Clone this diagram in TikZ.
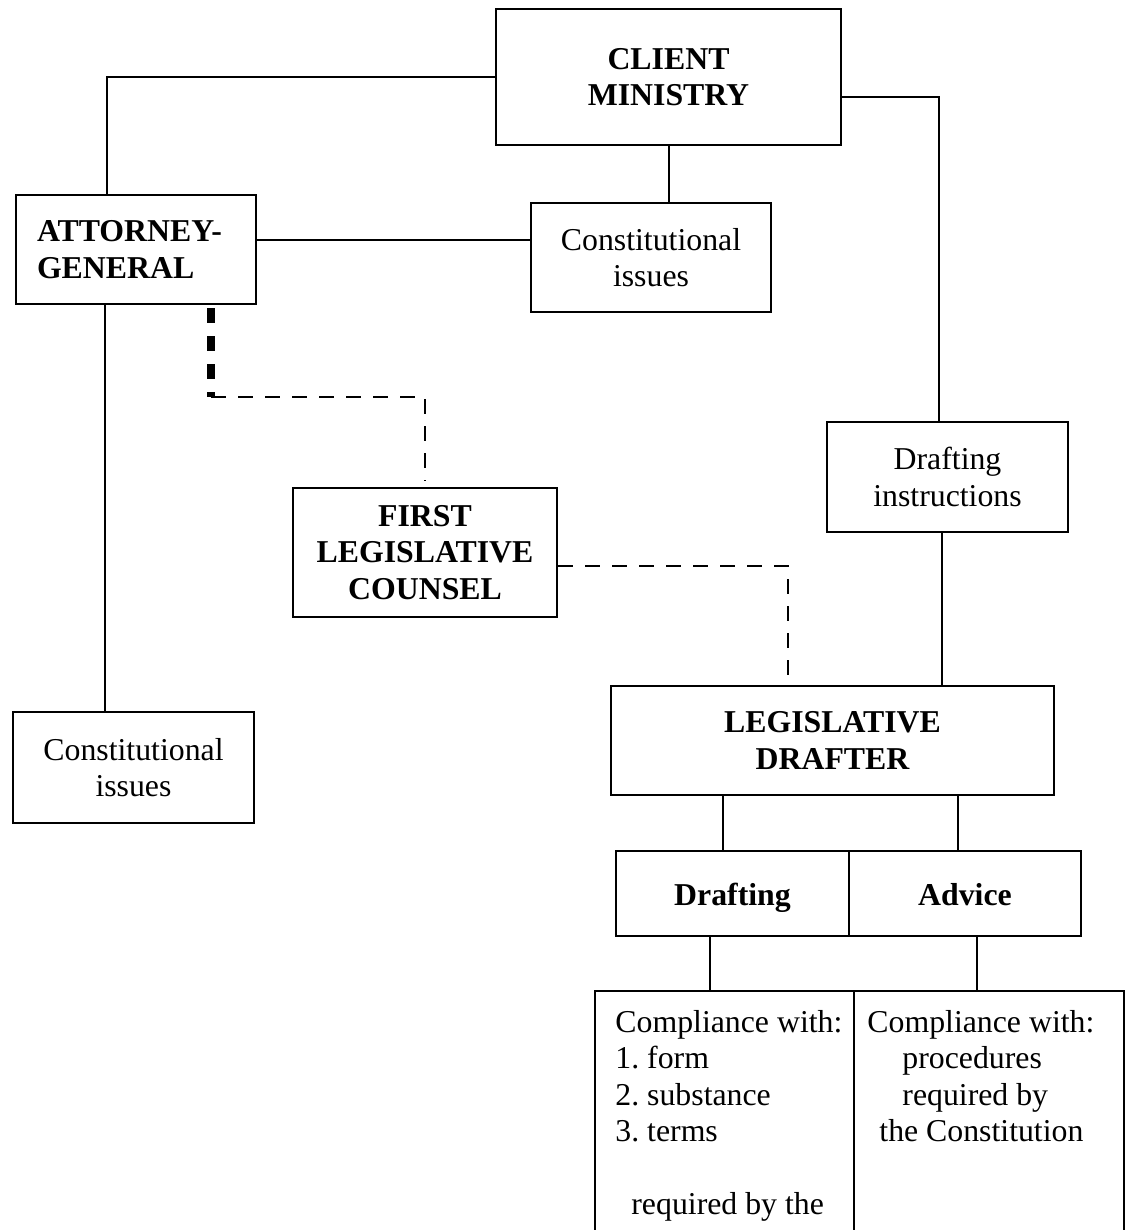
\documentclass[tikz,border=0pt]{standalone}
\usepackage{fontspec}
\setmainfont{Liberation Serif}
\frenchspacing

\begin{document}
\begin{tikzpicture}[x=0.5pt,y=-0.5pt,
        chartbox/.style={draw,line width=1pt,inner sep=0pt,align=center,
            font=\fontsize{15.9pt}{18.25pt}\selectfont},
        boldbox/.style={chartbox,font=\fontsize{15.9pt}{18.25pt}\selectfont\bfseries},
        celltext/.style={inner sep=0pt,align=left,anchor=north west,
            font=\fontsize{15.9pt}{18.25pt}\selectfont},
        link/.style={line width=1pt},
        dashlink/.style={line width=1pt,dash pattern=on 7.5pt off 6pt},
        heavydash/.style={line width=4pt,dash pattern=on 7.5pt off 6.5pt}]
        \useasboundingbox (0,0) rectangle (1128,1230);
        \clip (0,0) rectangle (1128,1230);
        \node[boldbox,minimum width=172.5pt,minimum height=68pt] (client) at (668.5,77) {CLIENT\\MINISTRY};
        \node[boldbox,align=left,text width=99pt,minimum width=120pt,minimum height=54.5pt] (ag) at (136,249.5) {ATTORNEY-\\GENERAL};
        \node[chartbox,minimum width=120pt,minimum height=54.5pt] (upcon) at (651,257.5) {Constitutional\\issues};
        \node[chartbox,minimum width=120.5pt,minimum height=55.5pt] (lowcon) at (133.5,767.5) {Constitutional\\issues};
        \node[boldbox,minimum width=132pt,minimum height=64.5pt] (flc) at (425,552.5) {FIRST\\LEGISLATIVE\\COUNSEL};
        \node[chartbox,minimum width=120.5pt,minimum height=55pt] (drafti) at (947.5,477) {Drafting\\instructions};
        \node[boldbox,minimum width=221.5pt,minimum height=54.5pt] (drafter) at (832.5,740.5) {LEGISLATIVE\\DRAFTER};
        \node[boldbox,text height=13pt,text depth=1.5pt,minimum width=116.5pt,minimum height=42.5pt] (draft) at (732.5,893.5) {Drafting};
        \node[boldbox,text height=13pt,text depth=1.5pt,minimum width=116pt,minimum height=42.5pt] (advice) at (965,893.5) {Advice};
        \node[chartbox,minimum width=129.5pt,minimum height=150pt] (compform) at (724.5,1141) {};
        \node[chartbox,minimum width=135pt,minimum height=150pt] (compproc) at (989,1141) {};
        \node[celltext] (formtext) at (615,1010) {Compliance with:\\1. form\\2. substance\\3. terms\\[18.25pt]\hspace*{8pt}required by the};
        \node[celltext] (proctext) at (867,1010) {Compliance with:\\\hspace*{17.5pt}procedures\\\hspace*{17.5pt}required by\\\hspace*{6pt}the Constitution};
        \coordinate (agbend) at (211,397);
        \draw[link] (client.west) -| ([xshift=-14.5pt]ag.north);
        \draw[link] ([yshift=4.75pt]ag.east) -- ([yshift=4.75pt]ag.east -| upcon.west);
        \draw[link] (client.south) -- (client.south |- upcon.north);
        \draw[link] ([yshift=-10pt]client.east) -| ([xshift=-4.25pt]drafti.north);
        \draw[link] ([xshift=-2.75pt]drafti.south) -- ([xshift=-2.75pt]drafti.south |- drafter.north);
        \draw[link] ([xshift=-15.5pt]ag.south) -- ([xshift=-15.5pt]ag.south |- lowcon.north);
        \draw[heavydash,shorten <=1.5pt] ([xshift=37.5pt]ag.south) -- (agbend);
        \draw[dashlink,shorten >=3pt] (agbend) -| (flc.north);
        \draw[dashlink,shorten >=4pt] ([yshift=-6.75pt]flc.east) -| ([xshift=-22.25pt]drafter.north);
        \draw[link] ([xshift=-4.75pt]draft.north) -- ([xshift=-4.75pt]draft.north |- drafter.south);
        \draw[link] ([xshift=-3.5pt]advice.north) -- ([xshift=-3.5pt]advice.north |- drafter.south);
        \draw[link] ([xshift=-11.25pt]draft.south) -- ([xshift=-11.25pt]draft.south |- compform.north);
        \draw[link] ([xshift=6pt]advice.south) -- ([xshift=6pt]advice.south |- compproc.north);
\end{tikzpicture}
\end{document}
